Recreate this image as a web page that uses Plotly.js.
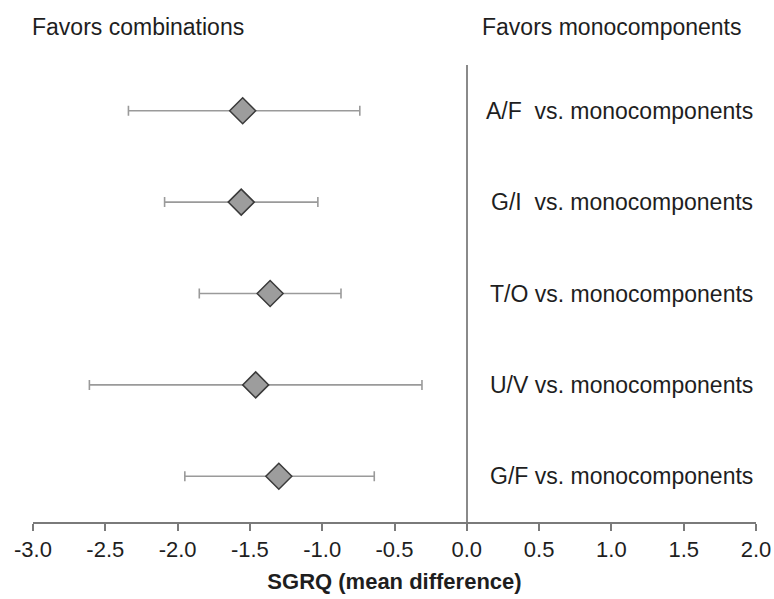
<!DOCTYPE html>
<html>
<head>
<meta charset="utf-8">
<script src="https://cdn.plot.ly/plotly-3.0.1.min.js"></script>
<style>html,body{margin:0;padding:0;background:#fff;}#chart{width:774px;height:599px;}</style>
</head>
<body>
<div id="chart"></div>
<script>
// Data
const comparisons = ['A/F\u00a0\u00a0vs. monocomponents', 'G/I\u00a0\u00a0vs. monocomponents', 'T/O vs. monocomponents', 'U/V vs. monocomponents', 'G/F vs. monocomponents'];
const meanDiff = [-1.55, -1.56, -1.36, -1.46, -1.30];
const ciLow = [-2.34, -2.09, -1.85, -2.61, -1.95];
const ciHigh = [-0.74, -1.03, -0.87, -0.31, -0.64];
const xTicks = [-3.0, -2.5, -2.0, -1.5, -1.0, -0.5, 0.0, 0.5, 1.0, 1.5, 2.0];
const xTickText = ['-3.0', '-2.5', '-2.0', '-1.5', '-1.0', '-0.5', '0.0', '0.5', '1.0', '1.5', '2.0'];

const FONT = 'Liberation Sans, Arial, sans-serif';
const TXT = '#1e1e1e';
const rows = comparisons.map((_, i) => i);

const trace = {
  type: 'scatter',
  mode: 'markers',
  x: meanDiff,
  y: rows,
  marker: {symbol: 'diamond', size: 20, color: '#9d9d9d', line: {color: '#3a3a3a', width: 1.5}},
  error_x: {
    type: 'data', symmetric: false,
    array: meanDiff.map((m, i) => ciHigh[i] - m),
    arrayminus: meanDiff.map((m, i) => m - ciLow[i]),
    color: '#9a9a9a', thickness: 1.6, width: 5
  },
  hoverinfo: 'x',
  showlegend: false
};

const layout = {
  width: 774, height: 599,
  margin: {l: 33, r: 18, t: 65, b: 77},
  paper_bgcolor: '#fff', plot_bgcolor: '#fff',
  xaxis: {
    range: [-3.0, 2.0], tickvals: xTicks, ticktext: xTickText,
    showgrid: false, zeroline: true, zerolinecolor: '#8a8a8a', zerolinewidth: 2,
    showline: true, linecolor: '#7a7a7a', linewidth: 2,
    ticks: 'outside', ticklen: 7, tickwidth: 2, tickcolor: '#7a7a7a',
    tickfont: {family: FONT, size: 22, color: TXT},
    title: {text: '<b>SGRQ (mean difference)</b>', font: {family: FONT, size: 22, color: TXT}, standoff: 12},
    fixedrange: true
  },
  yaxis: {range: [4.5, -0.5], visible: false, fixedrange: true},
  annotations: [
    ...comparisons.map((c, i) => ({
      x: 0.999, xref: 'paper', y: i, yref: 'y',
      text: c, showarrow: false, xanchor: 'right', yanchor: 'middle',
      font: {family: FONT, size: 23, color: TXT}
    })),
    {x: -0.004, xref: 'paper', y: 1.083, yref: 'paper', text: 'Favors combinations', showarrow: false,
     xanchor: 'left', yanchor: 'middle', font: {family: FONT, size: 23, color: TXT}},
    {x: 0.984, xref: 'paper', y: 1.083, yref: 'paper', text: 'Favors monocomponents', showarrow: false,
     xanchor: 'right', yanchor: 'middle', font: {family: FONT, size: 23, color: TXT}}
  ]
};

Plotly.newPlot('chart', [trace], layout, {displayModeBar: false, staticPlot: true});
</script>
</body>
</html>
